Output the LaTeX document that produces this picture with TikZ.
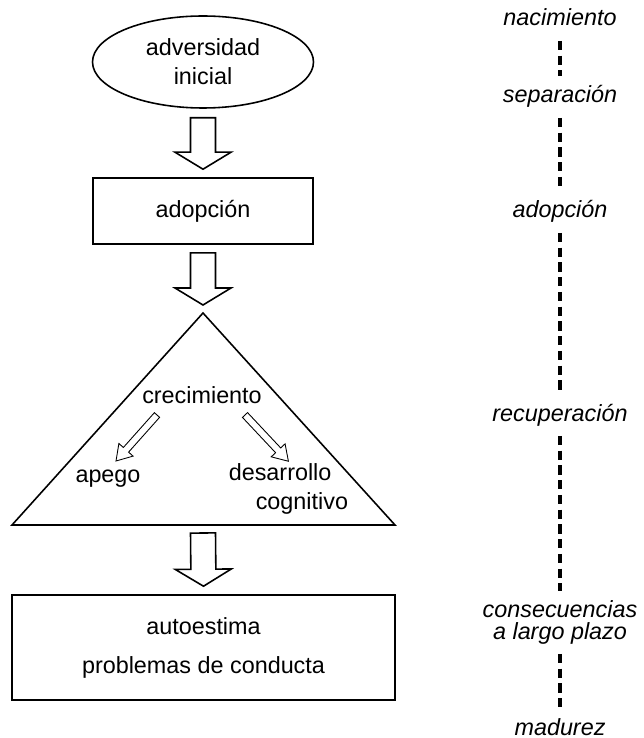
\documentclass[tikz,border=0pt]{standalone}
\usepackage{fontspec}
\setmainfont{Liberation Sans}
\usetikzlibrary{calc,positioning,shapes.geometric}

\tikzset{
  stage/.style={font=\fontsize{13.3pt}{12.3pt}\selectfont\itshape, inner xsep=0pt, inner ysep=5pt},
  onestage/.style={stage, text height=10pt, text depth=3pt, anchor=base},
  timeline/.style={line width=2pt, dash pattern=on 5.3pt off 3.1pt}
}

% hollow block arrow: [style]{from}{to}{shaft half width}{head half width}{head length}
\newcommand{\fatarrow}[6][]{%
  \coordinate (fa) at #2;
  \coordinate (fb) at #3;
  \coordinate (fh) at ($(fb)!#6!(fa)$);
  \draw[#1] ($(fa)!#4!90:(fb)$) -- ($(fh)!#4!90:(fb)$) -- ($(fh)!#5!90:(fb)$) -- (fb)
    -- ($(fh)!#5!-90:(fb)$) -- ($(fh)!#4!-90:(fb)$) -- ($(fa)!#4!-90:(fb)$) -- cycle;
}

\begin{document}
\begin{tikzpicture}[line width=0.9pt, font=\fontsize{13.3pt}{16pt}\selectfont]
    \useasboundingbox (0, 0) rectangle (12.86, -14.76);

    % left column
    \node[draw, ellipse, minimum width=4.42cm, minimum height=1.84cm, inner sep=0pt, align=center,
      font=\fontsize{13.3pt}{16.5pt}\selectfont] (ini) at (4.06, -1.24) {adversidad\\inicial};
    \node[draw, minimum width=4.4cm, minimum height=1.32cm] (adop) at (4.06, -4.22) {adopción};

    \draw (4.06, -6.26) coordinate (apex) -- (7.9, -10.5) -- (0.24, -10.5) -- cycle;
    \coordinate (base) at (4.06, -10.5);

    \node[draw, minimum width=7.66cm, minimum height=2.1cm, align=center,
      font=\fontsize{13.3pt}{22.2pt}\selectfont] (autoest) at (4.07, -12.95) {autoestima\\problemas de conducta};

    \node[anchor=base, inner sep=0pt] (crec) at (4.04, -8.06) {crecimiento};
    \node[anchor=base, inner sep=0pt] (apego) at (2.16, -9.64) {apego};
    \node[anchor=west, inner sep=0pt, align=left] (des) at (4.56, -9.78) {desarrollo\\\hspace*{0.54cm}cognitivo};

    \fatarrow{([yshift=-0.18cm]ini.south)}{([yshift=0.16cm]adop.north)}{0.25cm}{0.56cm}{0.34cm}
    \fatarrow{([yshift=-0.16cm]adop.south)}{([yshift=0.16cm]apex)}{0.25cm}{0.56cm}{0.34cm}
    \fatarrow{([yshift=-0.16cm]base)}{([yshift=0.16cm]autoest.north)}{0.25cm}{0.56cm}{0.34cm}

    \fatarrow[line width=0.5pt]{([shift={(-0.9,-0.24)}]crec.base)}{([shift={(0.16,0.42)}]apego.base)}{0.07cm}{0.19cm}{0.3cm}
    \fatarrow[line width=0.5pt]{([shift={(0.86,-0.24)}]crec.base)}{([yshift=0.04cm]des.north)}{0.07cm}{0.19cm}{0.3cm}

    % time line
    \node[onestage] (nac) at (11.2, -0.52) {nacimiento};
    \node[onestage] (sep) at (11.2, -2.06) {separación};
    \node[onestage] (adopt) at (11.2, -4.36) {adopción};
    \node[onestage] (recup) at (11.2, -8.42) {recuperación};
    \node[stage, align=center] (cons) at (11.2, -12.45) {consecuencias\\a largo plazo};
    \node[onestage, text height=14.5pt, text depth=0pt, inner ysep=0.5pt] (mad) at (11.2, -14.70) {madurez};

    \foreach \a/\b in {nac/sep, sep/adopt, adopt/recup, recup/cons, cons/mad}
      \draw[timeline] (\a) -- (\b);
\end{tikzpicture}
\end{document}
